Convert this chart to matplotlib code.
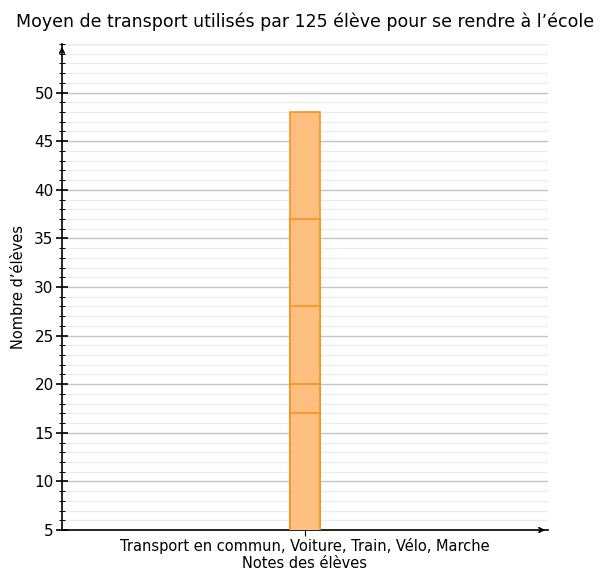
import matplotlib.pyplot as plt
from matplotlib.ticker import MultipleLocator

# data
category = "Transport en commun, Voiture, Train, Vélo, Marche"
values = [48, 37, 28, 20, 17]

fig = plt.figure(figsize=(6.11, 5.75), dpi=100)
ax = fig.add_axes([62 / 611, 45 / 575, 486 / 611, 486 / 575])

# overlapping bars, largest first so each top edge shows
for v in values:
    ax.bar(0, v, width=0.062, color='#ffbf80', edgecolor='#f7931e', linewidth=1.2, zorder=3)

ax.set_xlim(-0.5, 0.5)
ax.set_ylim(5, 55)
ax.set_xticks([0])
ax.set_xticklabels([category], fontsize=10.5)
ax.yaxis.set_major_locator(MultipleLocator(5))
ax.yaxis.set_minor_locator(MultipleLocator(1))
ax.set_yticks(range(5, 51, 5))
ax.tick_params(axis='y', which='major', direction='inout', length=8, width=1.2, labelsize=11, pad=2)
ax.tick_params(axis='y', which='minor', direction='inout', length=4, width=0.7)
ax.tick_params(axis='x', direction='out', length=4, labelsize=10.5, pad=2)

ax.grid(True, axis='y', which='major', color='#c4c4c4', lw=1, zorder=0)
ax.grid(True, axis='y', which='minor', color='#ececec', lw=1, zorder=0)
ax.axhline(55, color='#c4c4c4', lw=1, zorder=0)

for s in ['top', 'right']:
    ax.spines[s].set_visible(False)
ax.spines['left'].set_linewidth(1.2)
ax.spines['bottom'].set_linewidth(1.2)

# axis arrows
ax.annotate('', xy=(0, 1.0), xytext=(0, 0.98), xycoords='axes fraction',
            arrowprops=dict(arrowstyle='->', color='black', lw=1.2, mutation_scale=8))
ax.annotate('', xy=(1.0, 0), xytext=(0.98, 0), xycoords='axes fraction',
            arrowprops=dict(arrowstyle='->', color='black', lw=1.2, mutation_scale=8))

ax.set_xlabel('Notes des élèves', fontsize=10.5, labelpad=1)
ax.set_ylabel('Nombre d’élèves', fontsize=10.5, labelpad=6)
fig.text(0.5, 1 - 22 / 575, 'Moyen de transport utilisés par 125 élève pour se rendre à l’école',
         ha='center', va='center', fontsize=12.5)

fig.savefig('out.png', dpi=100)
